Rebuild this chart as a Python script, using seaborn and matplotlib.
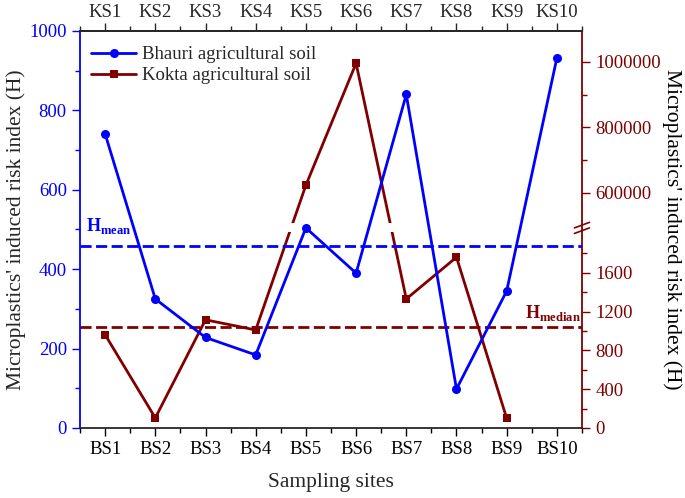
import numpy as np
import pandas as pd
import matplotlib
matplotlib.use("Agg")
import matplotlib.pyplot as plt
import seaborn as sns

sites_bs = ["BS1", "BS2", "BS3", "BS4", "BS5", "BS6", "BS7", "BS8", "BS9", "BS10"]
sites_ks = ["KS1", "KS2", "KS3", "KS4", "KS5", "KS6", "KS7", "KS8", "KS9", "KS10"]
bhauri_h = [741, 325, 228, 184, 504, 390, 840, 98, 345, 932]
kokta_h = [961, 104, 1115, 1010, 623500, 996000, 1330, 1760, 100]  # KS10 has no point
h_mean_bhauri = 459
h_median_kokta = 1040

left_ticks = [0, 200, 400, 600, 800, 1000]
right_ticks = [0, 400, 800, 1200, 1600, 600000, 800000, 1000000]
right_minor = [200, 600, 1000, 1400, 1800, 700000, 900000]

BLUE = "#0000FF"
RED = "#800000"

# broken right axis: lower part 0..L_MAX, upper part U_MIN..U_MAX
L_MAX, U_MIN, U_MAX = 2020, 508000, 1094600
F_B, F_T = 0.4937, 0.5164


def fwd(v):
    v = np.asarray(v, dtype=float)
    return np.where(v <= L_MAX, v / L_MAX * F_B,
                    np.where(v >= U_MIN, F_T + (v - U_MIN) / (U_MAX - U_MIN) * (1 - F_T),
                             F_B + (v - L_MAX) / (U_MIN - L_MAX) * (F_T - F_B)))


def inv(t):
    t = np.asarray(t, dtype=float)
    return np.where(t <= F_B, t / F_B * L_MAX,
                    np.where(t >= F_T, U_MIN + (t - F_T) / (1 - F_T) * (U_MAX - U_MIN),
                             L_MAX + (t - F_B) / (F_T - F_B) * (U_MIN - L_MAX)))


sns.set_style("ticks")
plt.rcParams["font.family"] = ["Liberation Serif", "DejaVu Serif"]
plt.rcParams["mathtext.fontset"] = "custom"
plt.rcParams["mathtext.rm"] = "Liberation Serif"
plt.rcParams["mathtext.bf"] = "Liberation Serif:bold"

bhauri = pd.DataFrame({"pos": np.arange(1, 11), "H": bhauri_h})
kokta = pd.DataFrame({"pos": np.arange(1, len(kokta_h) + 1), "H": kokta_h})

fig = plt.figure(figsize=(6.85, 4.98), dpi=100)
ax = fig.add_axes([0.1168, 0.1406, 0.7328, 0.7972])
ax2 = ax.twinx()
ax.set_zorder(ax2.get_zorder() + 1)
ax.patch.set_visible(False)

# Kokta on the broken right axis
ax2.set_yscale("function", functions=(fwd, inv))
sns.lineplot(data=kokta, x="pos", y="H", ax=ax2, color=RED, marker="s",
             markersize=6, markeredgewidth=0, linewidth=2, label="Kokta agricultural soil")
ax2.axhline(h_median_kokta, color=RED, lw=2, dashes=(4, 1.6))
ax2.axhspan(L_MAX, U_MIN, color="white", zorder=2.2, lw=0)
ax2.set_ylim(0, U_MAX)
ax2.set_yticks(right_ticks, labels=[str(t) for t in right_ticks])
ax2.set_yticks(right_minor, minor=True)
ax2.set_ylabel("Microplastics' induced risk index (H)", fontsize=15.5, rotation=270,
               va="center", color="black")
ax2.yaxis.set_label_coords(1.179, 0.5)
ax2.tick_params(axis="y", which="both", colors=RED, labelcolor=RED, labelsize=13.5, direction="out")
ax2.tick_params(axis="y", which="major", length=6, width=1)
ax2.tick_params(axis="y", which="minor", length=3.5, width=1)
for s in ["left", "top", "bottom"]:
    ax2.spines[s].set_visible(False)
ax2.spines["right"].set_color(RED)
ax2.spines["right"].set_linewidth(1.3)
ax2.get_legend().remove()

# break marks on the right spine
for yb in (0.497, 0.511):
    ax2.plot([0.985, 1.015], [yb - 0.007, yb + 0.007], transform=ax2.transAxes,
             color=RED, lw=1.2, clip_on=False, zorder=5)

# Bhauri on the left axis
sns.lineplot(data=bhauri, x="pos", y="H", ax=ax, color=BLUE, marker="o",
             markersize=6.5, markeredgewidth=0, linewidth=2, label="Bhauri agricultural soil")
ax.axhline(h_mean_bhauri, color=BLUE, lw=2, dashes=(4, 1.6))
ax.set_xlim(0.5, 10.5)
ax.set_ylim(0, 1000)
ax.set_xticks(np.arange(1, 11), labels=sites_bs)
ax.set_xticks(np.arange(0.5, 11, 1.0), minor=True)
ax.set_yticks(left_ticks)
ax.set_yticks(np.arange(100, 1000, 200), minor=True)
ax.set_xlabel("Sampling sites", fontsize=15.5, labelpad=11)
ax.set_ylabel("Microplastics' induced risk index (H)", fontsize=15.5, va="center")
ax.yaxis.set_label_coords(-0.128, 0.5)
ax.tick_params(axis="x", which="both", labelsize=13.5, direction="out", colors="black")
ax.tick_params(axis="y", which="both", colors=BLUE, labelcolor=BLUE, labelsize=13.5, direction="out")
ax.tick_params(which="major", length=6, width=1)
ax.tick_params(which="minor", length=3.5, width=1)
ax.spines["right"].set_visible(False)
ax.spines["left"].set_color(BLUE)
ax.spines["left"].set_linewidth(1.3)
for s in ["top", "bottom"]:
    ax.spines[s].set_linewidth(1.3)

top = ax.secondary_xaxis("top")
top.set_xticks(np.arange(1, 11), labels=sites_ks)
top.set_xticks(np.arange(0.5, 11, 1.0), minor=True)
top.tick_params(which="both", labelsize=13.5, direction="out", pad=1.5)
top.tick_params(which="major", length=6, width=1)
top.tick_params(which="minor", length=3.5, width=1)
top.spines["top"].set_linewidth(1.3)

h1, l1 = ax.get_legend_handles_labels()
h2, l2 = ax2.get_legend_handles_labels()
ax.legend(h1 + h2, l1 + l2, loc="upper left", frameon=False, fontsize=13.5,
          handlelength=2.4, handletextpad=0.3, labelspacing=0.2,
          borderaxespad=0.2, bbox_to_anchor=(0.0, 0.99))

ax.text(0.012, 0.483, r"$\mathbf{H}_{\mathbf{mean}}$", transform=ax.transAxes,
        color=BLUE, fontsize=13, va="bottom", ha="left")
ax.text(0.997, 0.265, r"$\mathbf{H}_{\mathbf{median}}$", transform=ax.transAxes,
        color=RED, fontsize=13, va="bottom", ha="right")

fig.savefig("out.png", dpi=100)
